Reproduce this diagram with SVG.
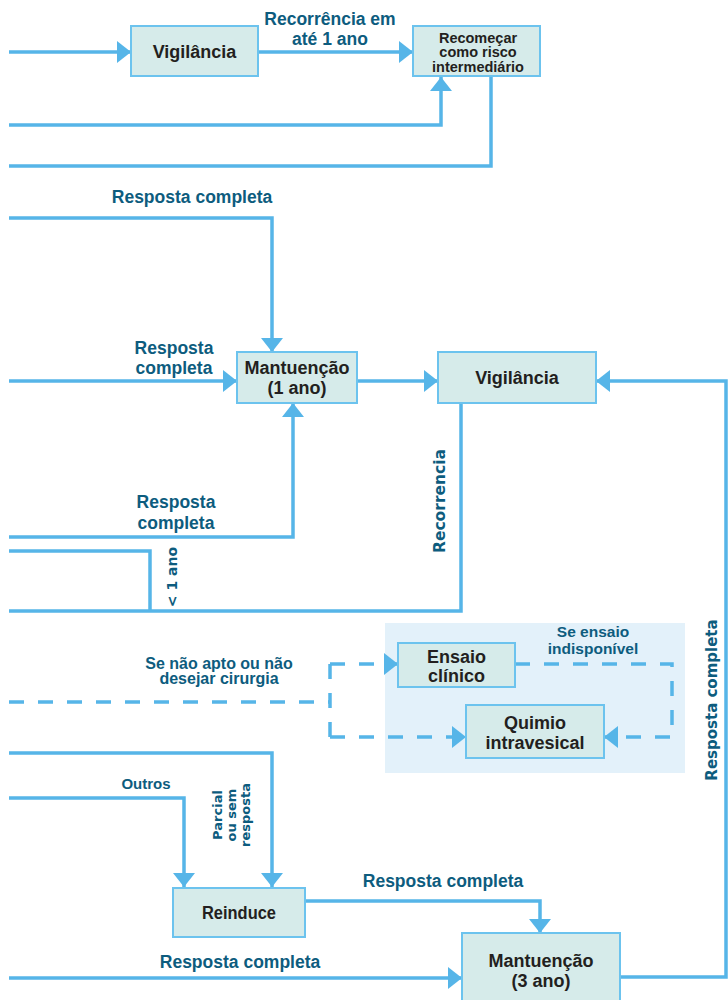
<svg xmlns="http://www.w3.org/2000/svg" width="728" height="1000" viewBox="0 0 728 1000">
<style>
.ln{fill:none;stroke:#56B5E8;stroke-width:3.5}
.dl{fill:none;stroke:#56B5E8;stroke-width:3.5;stroke-dasharray:15 14}
.box{fill:#D6EBEA;stroke:#6CC3EE;stroke-width:2}
.nt{font-family:"Liberation Sans",Arial,sans-serif;font-weight:bold;font-size:18px;fill:#231F20;text-anchor:middle}
.lb{font-family:"Liberation Sans",Arial,sans-serif;font-weight:bold;font-size:17.5px;fill:#0D5C7E;text-anchor:middle}
.rt{font-family:"DejaVu Sans",Verdana,sans-serif;font-weight:bold;font-size:14px;fill:#0D5C7E;text-anchor:middle}
</style>
<defs>
<marker id="ah" markerUnits="userSpaceOnUse" markerWidth="15" markerHeight="22" refX="14" refY="11" orient="auto" viewBox="0 0 15 22">
<path d="M0,0 L14,11 L0,22 Z" fill="#56B5E8"/>
</marker>
</defs>
<rect id="panel" x="385" y="623" width="300" height="150" fill="#E3F1FA"/>
<g id="connectors">
<path class="ln" d="M9,52 H131" marker-end="url(#ah)"/>
<path class="ln" d="M258,52 H413" marker-end="url(#ah)"/>
<path class="ln" d="M9,125 H441 V77" marker-end="url(#ah)"/>
<path class="ln" d="M491,76 V166 H9"/>
<path class="ln" d="M9,218 H272 V352" marker-end="url(#ah)"/>
<path class="ln" d="M9,381 H237" marker-end="url(#ah)"/>
<path class="ln" d="M357,381 H438" marker-end="url(#ah)"/>
<path class="ln" d="M9,537 H293 V403" marker-end="url(#ah)"/>
<path class="ln" d="M9,551 H150 V611"/>
<path class="ln" d="M9,611 H461 V403"/>
<path class="ln" d="M9,753 H272 V887" marker-end="url(#ah)"/>
<path class="ln" d="M9,798 H184 V887" marker-end="url(#ah)"/>
<path class="ln" d="M305,901 H540 V933" marker-end="url(#ah)"/>
<path class="ln" d="M9,978 H462" marker-end="url(#ah)"/>
<path class="ln" d="M620,977 H726 V381 H596" marker-end="url(#ah)"/>
<path class="dl" d="M9,702 H330"/>
<path class="dl" d="M330,664 V737"/>
<path class="dl" d="M330,664 H398" marker-end="url(#ah)"/>
<path class="dl" d="M330,737 H466" marker-end="url(#ah)"/>
<path class="dl" d="M515,664 H672 V737 H604" marker-end="url(#ah)"/>
</g>
<g id="labels">
<text class="lb" x="330" y="25">Recorrência em</text>
<text class="lb" x="330" y="45">até 1 ano</text>
<text class="lb" x="192" y="203">Resposta completa</text>
<text class="lb" x="174" y="354">Resposta</text>
<text class="lb" x="174" y="374">completa</text>
<text class="lb" x="176" y="508">Resposta</text>
<text class="lb" x="176" y="529">completa</text>
<text class="rt" transform="translate(177,577) rotate(-90)">&lt; 1 ano</text>
<text class="rt" style="font-size:15.5px" transform="translate(445,501) rotate(-90)">Recorrencia</text>
<text class="lb" style="font-size:16px" x="219" y="669">Se não apto ou não</text>
<text class="lb" style="font-size:16px" x="219" y="684">desejar cirurgia</text>
<text class="lb" style="font-size:15.5px" x="593" y="637">Se ensaio</text>
<text class="lb" style="font-size:15.5px" x="593" y="654">indisponível</text>
<text class="lb" style="font-size:15px" x="146" y="789">Outros</text>
<text class="rt" style="font-size:13px" transform="translate(222,815) rotate(-90)">Parcial</text>
<text class="rt" style="font-size:13px" transform="translate(236,815) rotate(-90)">ou sem</text>
<text class="rt" style="font-size:13px" transform="translate(250,815) rotate(-90)">resposta</text>
<text class="lb" x="443" y="887">Resposta completa</text>
<text class="lb" x="240" y="968">Resposta completa</text>
<text class="rt" style="font-size:15px" transform="translate(717,700) rotate(-90)">Resposta completa</text>
</g>
<g id="vigilancia-top">
<rect class="box" x="131" y="26" width="127" height="50"/>
<text class="nt" x="194.5" y="58">Vigilância</text>
</g>
<g id="recomecar">
<rect class="box" x="413" y="26" width="127" height="50"/>
<text class="nt" style="font-size:14.5px" x="478" y="42.5">Recomeçar</text>
<text class="nt" style="font-size:14.5px" x="478" y="57">como risco</text>
<text class="nt" style="font-size:14.5px" x="478" y="71.5">intermediário</text>
</g>
<g id="mantuencao-1">
<rect class="box" x="237" y="352" width="120" height="51"/>
<text class="nt" x="297" y="374">Mantuenção</text>
<text class="nt" x="297" y="394">(1 ano)</text>
</g>
<g id="vigilancia-mid">
<rect class="box" x="438" y="352" width="158" height="51"/>
<text class="nt" x="517" y="384">Vigilância</text>
</g>
<g id="ensaio">
<rect class="box" x="398" y="643" width="117" height="44"/>
<text class="nt" x="456.5" y="663">Ensaio</text>
<text class="nt" x="456.5" y="682">clínico</text>
</g>
<g id="quimio">
<rect class="box" x="466" y="705" width="138" height="53"/>
<text class="nt" x="535" y="729">Quimio</text>
<text class="nt" x="535" y="749">intravesical</text>
</g>
<g id="reinduce">
<rect class="box" x="173" y="888" width="132" height="49"/>
<text class="nt" x="239" y="919" textLength="74" lengthAdjust="spacingAndGlyphs">Reinduce</text>
</g>
<g id="mantuencao-3">
<rect class="box" x="462" y="933" width="158" height="72"/>
<text class="nt" x="541" y="967">Mantuenção</text>
<text class="nt" x="541" y="987">(3 ano)</text>
</g>
</svg>
